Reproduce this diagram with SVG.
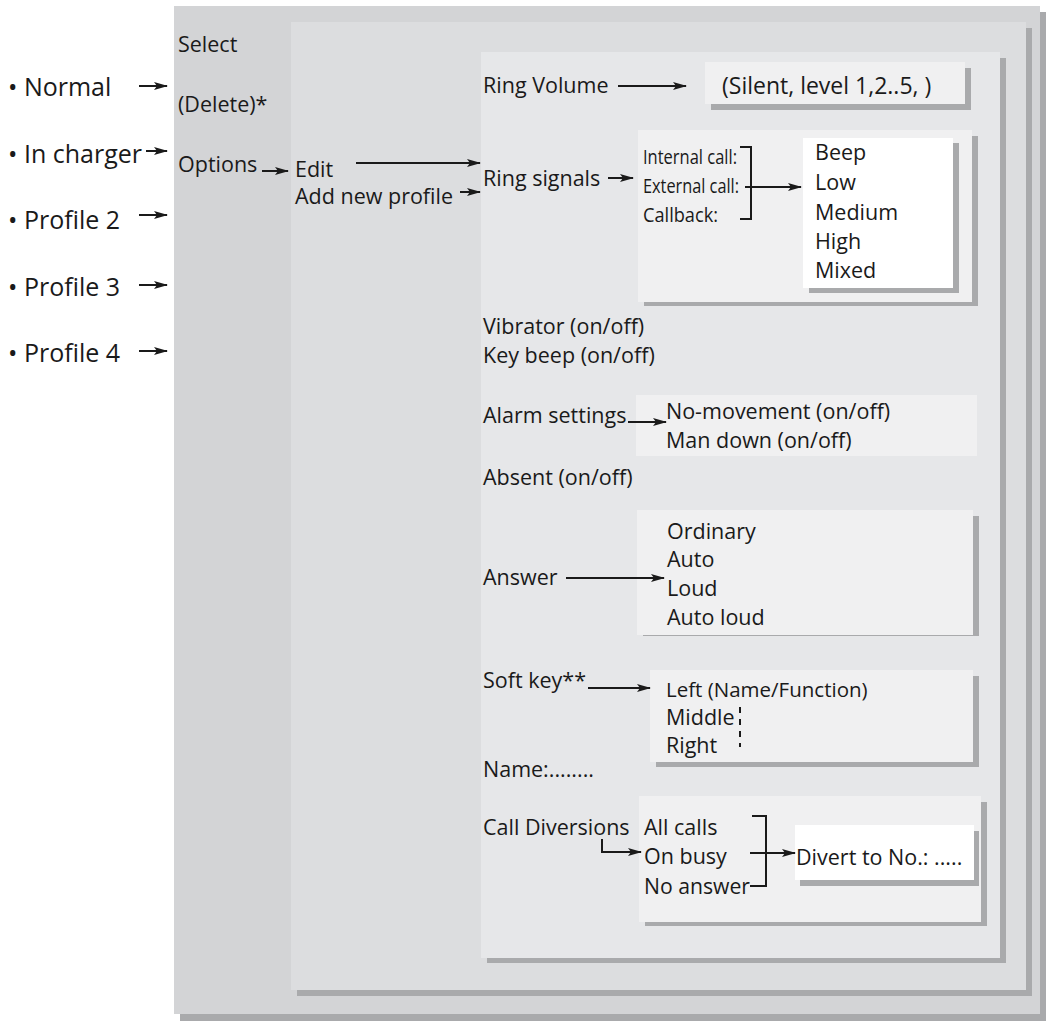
<svg xmlns="http://www.w3.org/2000/svg" width="1051" height="1024" viewBox="0 0 1051 1024">
<style>
text{font-family:"Open Sans","Liberation Sans",sans-serif;font-size:21.5px;fill:#1a1a1a}
.s{font-size:20px}
.b{font-size:25px}
.sh{fill:#a9aaac}
.l{stroke:#1a1a1a;stroke-width:2;fill:none}
</style>
<defs><marker id="a" markerWidth="14" markerHeight="8" refX="13" refY="4" orient="auto" markerUnits="userSpaceOnUse"><path d="M0,0 L14,4 L0,8 L3,4z" fill="#1a1a1a"/></marker></defs>
<rect width="1051" height="1024" fill="#fff"/>
<g id="panel1"><rect x="180" y="12" width="866" height="1009" class="sh"/><rect x="174" y="6" width="866" height="1008" fill="#d3d4d6"/>
<text x="178" y="52">Select</text><text x="178" y="112">(Delete)*</text><text x="178" y="172">Options</text></g>
<g id="panel2"><rect x="297" y="28" width="735" height="968" class="sh"/><rect x="291" y="22" width="735" height="968" fill="#dcdddf"/>
<text x="295" y="177">Edit</text><text x="295" y="204">Add new profile</text></g>
<g id="panel3"><rect x="487" y="58" width="519" height="905" class="sh"/><rect x="481" y="52" width="519" height="906" fill="#e6e7e9"/>
<text x="483" y="93">Ring Volume</text><text x="483" y="186">Ring signals</text>
<text x="483" y="334">Vibrator (on/off)</text><text x="483" y="363">Key beep (on/off)</text>
<text x="483" y="423">Alarm settings</text><text x="483" y="485">Absent (on/off)</text>
<text x="483" y="585">Answer</text><text x="483" y="688">Soft key**</text>
<text x="483" y="777">Name:........</text><text x="483" y="835">Call Diversions</text></g>
<g id="volbox"><rect x="711" y="68" width="260" height="42" class="sh"/><rect x="705" y="62" width="260" height="42" fill="#f0f0f1"/><text x="722" y="94" style="font-size:23px">(Silent, level 1,2..5, )</text></g>
<g id="sigbox"><rect x="644" y="136" width="334" height="170" class="sh"/><rect x="638" y="130" width="334" height="172" fill="#f0f0f1"/>
<text x="643" y="164" class="s" textLength="94" lengthAdjust="spacingAndGlyphs">Internal call:</text><text x="643" y="193" class="s" textLength="96" lengthAdjust="spacingAndGlyphs">External call:</text><text x="643" y="222" class="s" textLength="75" lengthAdjust="spacingAndGlyphs">Callback:</text></g>
<g id="levelbox"><rect x="809" y="143" width="150" height="150" class="sh"/><rect x="803" y="138" width="150" height="150" fill="#fff"/>
<text x="815" y="160">Beep</text><text x="815" y="190">Low</text><text x="815" y="220">Medium</text><text x="815" y="249">High</text><text x="815" y="278">Mixed</text></g>
<g id="alarmbox"><rect x="636" y="395" width="341" height="61" fill="#f0f0f1"/><text x="666" y="419">No-movement (on/off)</text><text x="666" y="448">Man down (on/off)</text></g>
<g id="answerbox"><rect x="643" y="516" width="336" height="120" class="sh"/><rect x="637" y="510" width="336" height="125" fill="#f0f0f1"/>
<text x="667" y="539">Ordinary</text><text x="667" y="567">Auto</text><text x="667" y="596">Loud</text><text x="667" y="625">Auto loud</text></g>
<g id="softbox"><rect x="656" y="676" width="323" height="91" class="sh"/><rect x="650" y="670" width="323" height="92" fill="#f0f0f1"/>
<text x="666" y="697" style="font-size:20.5px">Left  (Name/Function)</text><text x="666" y="725">Middle</text><text x="666" y="753">Right</text></g>
<g id="divbox"><rect x="645" y="802" width="342" height="124" class="sh"/><rect x="639" y="796" width="342" height="126" fill="#f0f0f1"/>
<text x="644" y="835">All calls</text><text x="644" y="864">On busy</text><text x="644" y="894" textLength="106" lengthAdjust="spacingAndGlyphs">No answer</text></g>
<g id="divertbox"><rect x="800" y="831" width="179" height="55" class="sh"/><rect x="795" y="825" width="179" height="55" fill="#fff"/><text x="796" y="865">Divert to No.: .....</text></g>
<g id="profiles"><text x="8" y="96" class="b">• Normal</text><text x="8" y="163" class="b" textLength="134" lengthAdjust="spacingAndGlyphs">• In charger</text><text x="8" y="229" class="b">• Profile 2</text><text x="8" y="296" class="b">• Profile 3</text><text x="8" y="362" class="b">• Profile 4</text></g>
<g id="connectors" class="l">
<path d="M139,86H167" marker-end="url(#a)"/><path d="M146,151H167" marker-end="url(#a)"/><path d="M139,215H167" marker-end="url(#a)"/><path d="M139,285H167" marker-end="url(#a)"/><path d="M139,351H167" marker-end="url(#a)"/>
<path d="M262,171H288" marker-end="url(#a)"/>
<path d="M356,163H480" marker-end="url(#a)"/><path d="M460,192H480" marker-end="url(#a)"/>
<path d="M618,86H686" marker-end="url(#a)"/>
<path d="M608,178H633" marker-end="url(#a)"/>
<path d="M740,147H751V219H740"/><path d="M745,187H801" marker-end="url(#a)"/>
<path d="M628,422H666" marker-end="url(#a)"/>
<path d="M566,578H664" marker-end="url(#a)"/>
<path d="M588,688H650" marker-end="url(#a)"/>
<path d="M740,707V747" stroke-dasharray="6,6"/>
<path d="M602,839V852H641" marker-end="url(#a)"/>
<path d="M752,816H766V886H750"/><path d="M750,853H795" marker-end="url(#a)"/>
</g>
</svg>
